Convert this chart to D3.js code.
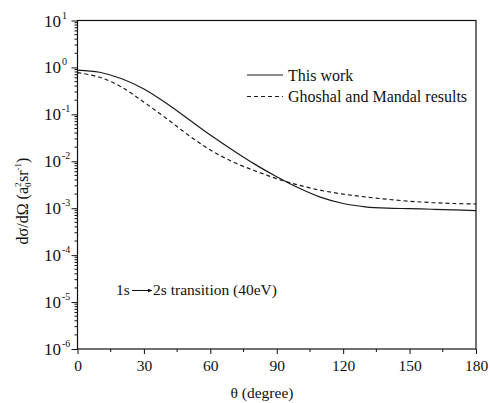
<!DOCTYPE html>
<html>
<head>
<meta charset="utf-8">
<script src="https://cdn.jsdelivr.net/npm/d3@7"></script>
<style>
  body { margin: 0; background: #fff; }
  svg text { font-family: "Liberation Serif", "Times New Roman", Times, serif; fill: #111; }
</style>
</head>
<body>
<script>
// data (theta in degrees, DCS in a0^2 sr^-1)
const thetaThis = [0, 10, 20, 30, 40, 50, 60, 70, 80, 90, 100, 110, 120, 130, 140, 150, 160, 170, 180];
const sigmaThis = [0.88, 0.79, 0.575, 0.347, 0.174, 0.0794, 0.0363, 0.0174, 0.0087, 0.00468, 0.00269, 0.0017, 0.00126, 0.00107, 0.001, 0.00098, 0.00095, 0.00092, 0.00089];

const thetaGM = [0, 10, 20, 30, 40, 50, 60, 70, 80, 90, 100, 110, 120, 130, 140, 150, 160, 170, 180];
const sigmaGM = [0.776, 0.617, 0.38, 0.182, 0.083, 0.0363, 0.0174, 0.0098, 0.0063, 0.00427, 0.00309, 0.0024, 0.002, 0.00174, 0.00155, 0.00141, 0.00132, 0.00126, 0.00123];

const xTicks = [0, 30, 60, 90, 120, 150, 180];
const yExponents = [1, 0, -1, -2, -3, -4, -5, -6];

const width = 490;
const height = 403;
const margin = {left: 77.5, right: 14, top: 20.5, bottom: 54};

const x = d3.scaleLinear().domain([0, 180]).range([margin.left, width - margin.right]);
const y = d3.scaleLog().domain([1e-6, 1e1]).range([height - margin.bottom, margin.top]);

const svg = d3.select('body').append('svg')
  .attr('width', width)
  .attr('height', height);

// curves
const line = d3.line()
  .x(d => x(d[0]))
  .y(d => y(d[1]))
  .curve(d3.curveCatmullRom.alpha(0.5));

svg.append('path')
  .datum(d3.zip(thetaThis, sigmaThis))
  .attr('d', line)
  .attr('fill', 'none')
  .attr('stroke', '#1a1a1a')
  .attr('stroke-width', 1.2);

svg.append('path')
  .datum(d3.zip(thetaGM, sigmaGM))
  .attr('d', line)
  .attr('fill', 'none')
  .attr('stroke', '#1a1a1a')
  .attr('stroke-width', 1.2)
  .attr('stroke-dasharray', '4,3');

// frame
svg.append('rect')
  .attr('x', x(0))
  .attr('y', y(1e1))
  .attr('width', x(180) - x(0))
  .attr('height', y(1e-6) - y(1e1))
  .attr('fill', 'none')
  .attr('stroke', '#111')
  .attr('stroke-width', 1.2);

// x axis
const xAxis = svg.append('g')
  .attr('transform', `translate(0,${y(1e-6)})`)
  .call(d3.axisBottom(x).tickValues(xTicks).tickSize(5).tickFormat(d3.format('d')));
xAxis.attr('font-family', null);
xAxis.select('.domain').remove();
xAxis.selectAll('.tick line').attr('stroke', '#111');
xAxis.selectAll('.tick text')
  .attr('y', 11)
  .style('font-size', '15.5px')
  .attr('fill', '#111');

const xMinor = d3.range(15, 180, 30);
svg.append('g').selectAll('line')
  .data(xMinor)
  .join('line')
  .attr('x1', d => x(d)).attr('x2', d => x(d))
  .attr('y1', y(1e-6)).attr('y2', y(1e-6) + 3)
  .attr('stroke', '#111');

// y axis
const yMajor = yExponents.map(e => Math.pow(10, e));
const yAxis = svg.append('g')
  .attr('transform', `translate(${x(0)},0)`)
  .call(d3.axisLeft(y).tickValues(yMajor).tickSize(6).tickFormat(''));
yAxis.select('.domain').remove();
yAxis.selectAll('.tick line').attr('stroke', '#111');

const yMinor = [];
yExponents.slice(1).forEach(e => {
  for (let k = 2; k <= 9; k++) yMinor.push(k * Math.pow(10, e));
});
svg.append('g').selectAll('line')
  .data(yMinor)
  .join('line')
  .attr('x1', x(0) - 3).attr('x2', x(0))
  .attr('y1', d => y(d)).attr('y2', d => y(d))
  .attr('stroke', '#111');

const yLab = svg.append('g').selectAll('text')
  .data(yExponents)
  .join('text')
  .attr('x', 44)
  .attr('y', e => y(Math.pow(10, e)) + 6)
  .style('font-size', '17px');
yLab.append('tspan').text('10');
yLab.append('tspan')
  .attr('dy', -8)
  .attr('dx', 1)
  .style('font-size', '10px')
  .text(e => e < 0 ? '-' + Math.abs(e) : e);

// axis titles
svg.append('text')
  .attr('x', 262)
  .attr('y', 398)
  .attr('text-anchor', 'middle')
  .style('font-size', '15.5px')
  .text('θ (degree)');

const yTitle = svg.append('text')
  .attr('transform', 'translate(28,201) rotate(-90)')
  .attr('text-anchor', 'middle')
  .style('font-size', '16px');
yTitle.append('tspan').text('dσ/dΩ (a');
yTitle.append('tspan').attr('dy', 3).style('font-size', '9px').text('0');
yTitle.append('tspan').attr('dy', -10).attr('dx', -4.5).style('font-size', '9px').text('2');
yTitle.append('tspan').attr('dy', 7).attr('dx', 0.5).text('sr');
yTitle.append('tspan').attr('dy', -7).style('font-size', '9px').text('-1');
yTitle.append('tspan').attr('dy', 7).text(')');

// legend
const legendItems = [
  {label: 'This work', dash: null},
  {label: 'Ghoshal and Mandal results', dash: '4,3'}
];
const legend = svg.append('g').selectAll('g')
  .data(legendItems)
  .join('g')
  .attr('transform', (d, i) => `translate(247,${75 + i * 21.5})`);
legend.append('line')
  .attr('x1', 0).attr('x2', 36)
  .attr('stroke', '#1a1a1a')
  .attr('stroke-width', 1.2)
  .attr('stroke-dasharray', d => d.dash);
legend.append('text')
  .attr('x', 41)
  .attr('y', 5.5)
  .style('font-size', '16px')
  .text(d => d.label);

// annotation
svg.append('defs').append('marker')
  .attr('id', 'arrow')
  .attr('viewBox', '0 -5 10 10')
  .attr('refX', 10)
  .attr('markerWidth', 8)
  .attr('markerHeight', 4)
  .attr('markerUnits', 'userSpaceOnUse')
  .attr('orient', 'auto')
  .append('path')
  .attr('d', 'M0,-5L10,0L0,5Z')
  .attr('fill', '#111');

svg.append('text')
  .attr('x', 116)
  .attr('y', 295)
  .style('font-size', '15.5px')
  .text('1s');
svg.append('line')
  .attr('x1', 132).attr('x2', 152)
  .attr('y1', 290.5).attr('y2', 290.5)
  .attr('stroke', '#111')
  .attr('marker-end', 'url(#arrow)');
svg.append('text')
  .attr('x', 153)
  .attr('y', 295)
  .style('font-size', '15.5px')
  .text('2s transition (40eV)');
</script>
</body>
</html>
